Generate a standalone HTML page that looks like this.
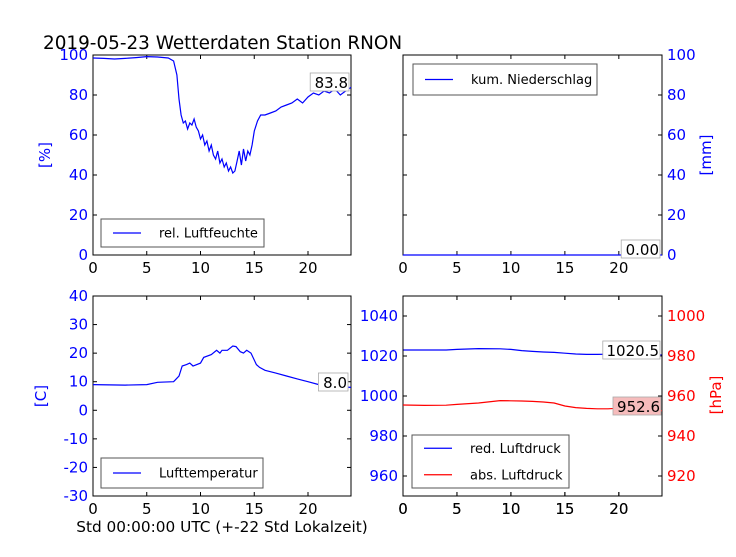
<!DOCTYPE html>
<html><head><meta charset="utf-8"><style>
body{margin:0;background:#fff}
svg{font-family:"DejaVu Sans","Liberation Sans",sans-serif}
</style></head><body>
<svg id="c" width="736" height="552" xmlns="http://www.w3.org/2000/svg">
<rect width="736" height="552" fill="#fff"/>
<text x="43" y="49" font-size="18.4" fill="#000">2019-05-23 Wetterdaten Station RNON</text>
<text x="222" y="532" font-size="15.3" text-anchor="middle">Std 00:00:00 UTC (+-22 Std Lokalzeit)</text>
</svg>
<script>
const humT=[0,1,2,3,4,5,6,7,7.5,7.8,8,8.2,8.4,8.6,8.8,9,9.2,9.4,9.6,9.8,10,10.2,10.4,10.6,10.8,11,11.2,11.4,11.6,11.8,12,12.2,12.4,12.6,12.8,13,13.2,13.4,13.6,13.8,14,14.2,14.4,14.6,14.8,15,15.3,15.6,16,16.5,17,17.5,18,18.5,19,19.5,20,20.5,21,21.5,22,22.5,23,23.5,24];
const humV=[98.5,98.3,98,98.3,98.7,99.2,99,98.5,97,90,78,70,66,67,63,66,65,68,64,62,58,60,55,57,52,55,50,48,52,46,48,44,46,42,44,41,42,47,52,45,53,47,52,50,55,62,67,70,70,71,72,74,75,76,78,76,79,81,80,82,81,83,80,82,83.8];
const rainT=[0,24];
const rainV=[0,0];
const tmpT=[0,3,5,6,7.5,8,8.3,8.7,9,9.3,10,10.3,11,11.5,11.8,12,12.5,13,13.3,13.7,14,14.3,14.7,15.2,15.5,16,17,18,19,20,21,22,24];
const tmpV=[9,8.8,9,9.8,10,12,15.5,16,16.5,15.5,16.5,18.5,19.5,21,20,21,21,22.5,22.3,20.5,20,21,20,16,15,14,13,12,11,10,9,8.5,8];
const prT=[0,2,4,5,7,9,10,11,12,13,14,15,16,17,18,19,20,21,22,23,24];
const redV=[1023,1023,1023,1023.3,1023.7,1023.6,1023.3,1022.7,1022.3,1022,1021.8,1021.4,1021,1020.8,1020.8,1020.9,1021,1021,1020.9,1020.8,1020.5];
const absV=[955.5,955.3,955.4,955.8,956.5,957.7,957.6,957.5,957.3,957,956.5,955,954.2,953.8,953.6,953.6,953.9,954,953.8,953.3,952.6];
const xTicks=[0,5,10,15,20];
const svg=document.getElementById('c');const NS='http://www.w3.org/2000/svg';
function mk(t,a,txt){const e=document.createElementNS(NS,t);for(const k in a)e.setAttribute(k,a[k]);if(txt!==undefined)e.textContent=txt;svg.appendChild(e);return e;}
function axes(L,T,W,H,y0,y1,yt,side,col,name){
 const sx=v=>L+v/24*W, sy=v=>T+H-(v-y0)/(y1-y0)*H;
 const f=mk('rect',{x:L,y:T,width:W,height:H,fill:'none',stroke:'#000','stroke-width':1});
 
 xTicks.forEach(v=>{const x=sx(v);mk('line',{x1:x,x2:x,y1:T+H,y2:T+H-4,stroke:'#000'});mk('line',{x1:x,x2:x,y1:T,y2:T+4,stroke:'#000'});
  const t=mk('text',{x:x,y:T+H+18,'font-size':15,'text-anchor':'middle'},v);});
 yt.forEach(v=>{const y=sy(v);mk('line',{x1:L,x2:L+4,y1:y,y2:y,stroke:'#000'});mk('line',{x1:L+W,x2:L+W-4,y1:y,y2:y,stroke:'#000'});
  if(side){const t=mk('text',{x:side=='l'?L-5:L+W+5,y:y+5,'font-size':15,'text-anchor':side=='l'?'end':'start',fill:col},v);}});
 return {sx,sy};
}
function line(ax,T,V,col,name){const d=T.map((t,i)=>(i?'L':'M')+ax.sx(t).toFixed(1)+','+ax.sy(V[i]).toFixed(1)).join('');
 const p=mk('path',{d:d,fill:'none',stroke:col,'stroke-width':1.2});}
function legend(x,y,w,h,items,name){const g=mk('rect',{x:x,y:y,width:w,height:h,fill:'#fff',stroke:'#555','stroke-width':1});
 items.forEach((it,i)=>{const cy=y+h/(items.length)*(i+0.5);mk('line',{x1:x+12,x2:x+40,y1:cy,y2:cy,stroke:it[1],'stroke-width':1.2});
  const t=mk('text',{x:x+58,y:cy+4.5,'font-size':13},it[0]);});}
function label(x,y,txt,bg,name){const w=txt.length*9.2+2;mk('rect',{x:x-w,y:y-15,width:w,height:18,fill:bg,stroke:'#aaa','stroke-width':0.8});
 const t=mk('text',{x:x-1,y:y,'font-size':15,'text-anchor':'end'},txt);}
function ylab(x,y,txt,col,name){const t=mk('text',{x:x,y:y,'font-size':15,fill:col,'text-anchor':'middle',transform:`rotate(-90 ${x} ${y})`},txt);}
let a=axes(93,55,258,200,0,100,[0,20,40,60,80,100],'l','#00f','humidity');
line(a,humT,humV,'#00f','humidity-line');
legend(101,219,163,28,[['rel. Luftfeuchte','#00f']],'humidity-legend');
label(349,88,humV[humV.length-1].toFixed(1),'#fff','humidity-last-value');
ylab(50,155,'[%]','#00f','humidity-y-title');
a=axes(403,55,259,200,0,100,[0,20,40,60,80,100],'r','#00f','rain');
line(a,rainT,rainV,'#00f','rain-line');
legend(413,64,184,31,[['kum. Niederschlag','#00f']],'rain-legend');
label(660,255,rainV[rainV.length-1].toFixed(2),'#fff','rain-last-value');
ylab(711,155,'[mm]','#00f','rain-y-title');
a=axes(93,296,258,200,-30,40,[-30,-20,-10,0,10,20,30,40],'l','#00f','temperature');
line(a,tmpT,tmpV,'#00f','temperature-line');
legend(101,458,162,30,[['Lufttemperatur','#00f']],'temperature-legend');
label(348,388,tmpV[tmpV.length-1].toFixed(1),'#fff','temperature-last-value');
ylab(46,396,'[C]','#00f','temperature-y-title');
a=axes(403,296,259,200,950,1050,[960,980,1000,1020,1040],'l','#00f','pressure');
line(a,prT,redV,'#00f','red-pressure-line');
const a2=axes(403,296,259,200,910,1010,[920,940,960,980,1000],'r','#f00','pressure-right');
line(a2,prT,absV,'#f00','abs-pressure-line');
legend(412,435,157,53,[['red. Luftdruck','#00f'],['abs. Luftdruck','#f00']],'pressure-legend');
label(660,356,redV[redV.length-1].toFixed(1),'#fff','red-pressure-last-value');
label(661,412,absV[absV.length-1].toFixed(1),'#f6bcbc','abs-pressure-last-value');
ylab(721,395,'[hPa]','#f00','pressure-y-title');
</script>
</body></html>
